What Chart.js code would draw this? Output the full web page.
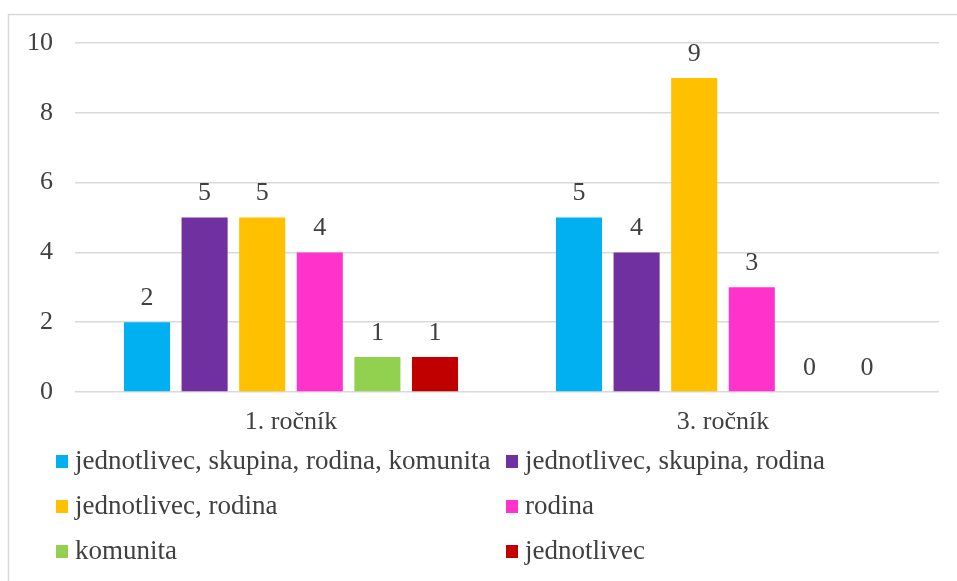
<!DOCTYPE html>
<html>
<head>
<meta charset="utf-8">
<script src="https://cdn.jsdelivr.net/npm/chart.js@4/dist/chart.umd.min.js"></script>
<style>
  html, body { margin: 0; padding: 0; background: #fff; }
  #wrap { width: 957px; height: 581px; position: relative; }
</style>
</head>
<body>
<div id="wrap"><canvas id="c" width="957" height="581"></canvas></div>
<script>
const categories = ["1. ročník", "3. ročník"];
const seriesNames = [
  "jednotlivec, skupina, rodina, komunita",
  "jednotlivec, skupina, rodina",
  "jednotlivec, rodina",
  "rodina",
  "komunita",
  "jednotlivec"
];
const seriesColors = ["#00B0F0", "#7030A0", "#FFC000", "#FF33CC", "#92D050", "#C00000"];
const s1 = [2, 5];
const s2 = [5, 4];
const s3 = [5, 9];
const s4 = [4, 3];
const s5 = [1, 0];
const s6 = [1, 0];
const seriesValues = [s1, s2, s3, s4, s5, s6];
const yTicks = [0, 2, 4, 6, 8, 10];

const FONT = "'Liberation Serif'";
const TEXT = "#404040";
Chart.defaults.font.family = FONT;

const frame = {
  id: 'frame',
  beforeDraw(chart) {
    const ctx = chart.ctx;
    ctx.save();
    ctx.fillStyle = '#fff';
    ctx.fillRect(0, 0, chart.width, chart.height);
    ctx.strokeStyle = '#d9d9d9';
    ctx.lineWidth = 1.5;
    ctx.beginPath();
    ctx.moveTo(8.5, chart.height);
    ctx.lineTo(8.5, 14.5);
    ctx.lineTo(chart.width, 14.5);
    ctx.stroke();
    ctx.restore();
  }
};

const valueLabels = {
  id: 'valueLabels',
  afterDatasetsDraw(chart) {
    const ctx = chart.ctx;
    ctx.save();
    ctx.font = "26px 'Liberation Serif'";
    ctx.fillStyle = TEXT;
    ctx.textAlign = 'center';
    ctx.textBaseline = 'middle';
    chart.data.datasets.forEach((ds, i) => {
      const meta = chart.getDatasetMeta(i);
      meta.data.forEach((el, j) => {
        ctx.fillText(String(ds.data[j]), el.x, el.y - 24);
      });
    });
    ctx.restore();
  }
};

const gridLegend = {
  id: 'gridLegend',
  afterDraw(chart) {
    const ctx = chart.ctx;
    ctx.save();
    ctx.font = "27px 'Liberation Serif'";
    ctx.textBaseline = 'middle';
    ctx.textAlign = 'left';
    const colX = [56, 506];
    const rowY = [462, 507, 552];
    chart.data.datasets.forEach((ds, i) => {
      const col = i % 2, row = Math.floor(i / 2);
      const x = colX[col], y = rowY[row];
      ctx.fillStyle = ds.backgroundColor;
      ctx.fillRect(x, y - 7, 12, 13);
      ctx.fillStyle = TEXT;
      ctx.fillText(ds.label, x + 19, y);
    });
    ctx.restore();
  }
};

function draw() {
  new Chart(document.getElementById('c'), {
    type: 'bar',
    data: {
      labels: categories,
      datasets: seriesNames.map((n, i) => ({
        label: n,
        data: seriesValues[i],
        backgroundColor: seriesColors[i],
        borderWidth: 0,
        categoryPercentage: 0.8,
        barPercentage: 0.8
      }))
    },
    options: {
      responsive: false,
      animation: false,
      devicePixelRatio: 1,
      layout: { padding: { left: 0, right: 18, top: 43, bottom: 139 } },
      plugins: { legend: { display: false }, tooltip: { enabled: false } },
      scales: {
        x: {
          grid: { display: false, drawTicks: false },
          border: { display: false },
          ticks: { color: TEXT, font: { family: FONT, size: 26 }, padding: 15 },
          afterFit(s) { s.height = 50; }
        },
        y: {
          min: 0, max: 10,
          afterBuildTicks(s) { s.ticks = yTicks.map(v => ({ value: v })); },
          grid: { color: '#d9d9d9', lineWidth: 1.5, drawTicks: false },
          border: { display: false },
          ticks: { color: TEXT, font: { family: FONT, size: 26 }, padding: 22 },
          afterFit(s) { s.width = 75; }
        }
      }
    },
    plugins: [frame, valueLabels, gridLegend]
  });
}

if (document.fonts && document.fonts.load) {
  document.fonts.load("26px 'Liberation Serif'").then(draw, draw);
} else {
  draw();
}
</script>
</body>
</html>
